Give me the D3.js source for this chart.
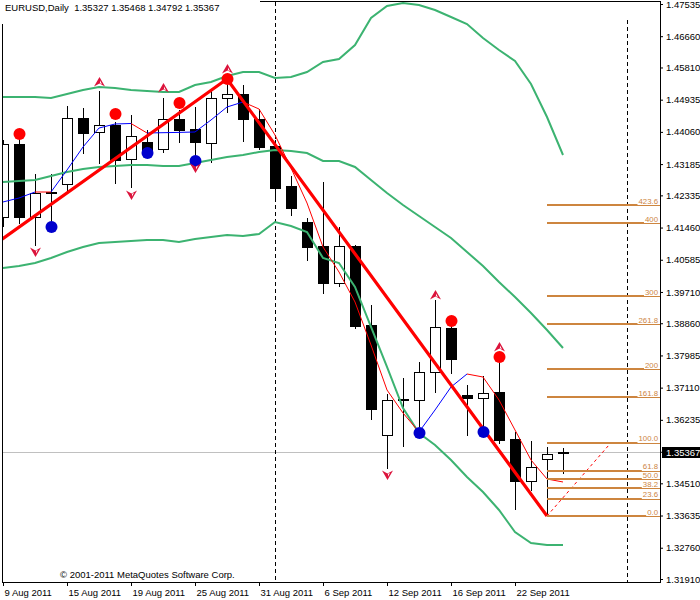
<!DOCTYPE html>
<html><head><meta charset="utf-8">
<script src="https://cdn.jsdelivr.net/npm/d3@7/dist/d3.min.js"></script>
<style>
body{margin:0;background:#fff}
svg{display:block}
text{font-family:"Liberation Sans",Arial,sans-serif;fill:#000}
</style>
</head><body>
<svg id="chart" width="700" height="600"></svg>
<script>
// ---------------- data ----------------
const symbolTitle = "EURUSD,Daily";
const dates = ["2011-08-09","2011-08-10","2011-08-11","2011-08-12","2011-08-15","2011-08-16","2011-08-17","2011-08-18","2011-08-19",
  "2011-08-22","2011-08-23","2011-08-24","2011-08-25","2011-08-26","2011-08-29","2011-08-30","2011-08-31",
  "2011-09-01","2011-09-02","2011-09-05","2011-09-06","2011-09-07","2011-09-08","2011-09-09",
  "2011-09-12","2011-09-13","2011-09-14","2011-09-15","2011-09-16","2011-09-19","2011-09-20","2011-09-21","2011-09-22","2011-09-23",
  "2011-09-26","2011-09-27"];
const openPrices  = [1.41747,1.43731,1.41747,1.42426,1.42644,1.44437,1.44057,1.44247,1.43323,1.43785,1.43595,1.44410,1.44138,1.43758,1.44981,1.45089,1.44410,1.43676,1.42589,1.41611,1.40959,1.39954,1.40959,1.38812,1.35823,1.36801,1.36774,1.37535,1.38731,1.36910,1.36828,1.36992,1.35714,1.34573,1.35171,1.35327];
const highPrices  = [1.43839,1.43867,1.42915,1.42915,1.44763,1.44709,1.45171,1.44328,1.44519,1.44111,1.44981,1.44655,1.44736,1.45225,1.45497,1.45334,1.44682,1.43839,1.42861,1.41720,1.42698,1.41475,1.40986,1.39356,1.36937,1.37372,1.37807,1.39492,1.38785,1.37182,1.37426,1.37807,1.35905,1.35660,1.35497,1.35468];
const lowPrices   = [1.41502,1.41584,1.40986,1.41611,1.42426,1.43486,1.43214,1.42671,1.42562,1.43486,1.43513,1.43785,1.43350,1.43242,1.44600,1.43812,1.43595,1.42263,1.41801,1.40579,1.39682,1.39872,1.38731,1.36258,1.34926,1.35524,1.35877,1.36992,1.37508,1.35823,1.35959,1.35606,1.33812,1.34328,1.33622,1.34792];
const closePrices = [1.43731,1.41747,1.42399,1.42399,1.44437,1.44030,1.44247,1.43296,1.43948,1.43568,1.44410,1.44111,1.43785,1.44981,1.45089,1.44410,1.43649,1.42535,1.41992,1.40932,1.39954,1.40959,1.38785,1.36530,1.36774,1.36774,1.37535,1.38758,1.37888,1.36828,1.36964,1.35687,1.34573,1.34953,1.35307,1.35367];

const bandUpper  = [1.45008,1.45008,1.45008,1.44981,1.45089,1.45198,1.45280,1.45252,1.45198,1.45171,1.45144,1.45144,1.45334,1.45415,1.45579,1.45687,1.45687,1.45524,1.45551,1.45687,1.45959,1.46040,1.46421,1.47155,1.47481,1.47562,1.47508,1.47372,1.47182,1.46992,1.46611,1.46285,1.45986,1.45361,1.44464,1.43432];
const bandMiddle = [1.42698,1.42725,1.42752,1.42861,1.42970,1.43051,1.43106,1.43133,1.43160,1.43160,1.43133,1.43133,1.43214,1.43296,1.43377,1.43432,1.43513,1.43568,1.43540,1.43486,1.43269,1.43269,1.43106,1.42752,1.42399,1.42073,1.41774,1.41475,1.41176,1.40796,1.40415,1.39981,1.39573,1.39138,1.38676,1.38187];
const bandLower  = [1.40361,1.40415,1.40497,1.40633,1.40796,1.40932,1.41040,1.41068,1.41095,1.41122,1.41122,1.41068,1.41149,1.41204,1.41258,1.41231,1.41285,1.41611,1.41502,1.41339,1.40633,1.40497,1.39845,1.38758,1.37671,1.36557,1.35877,1.35551,1.35144,1.34682,1.34274,1.33785,1.33187,1.32888,1.32834,1.32834];

const maValues = [1.42155,1.42263,1.42426,1.42426,1.43024,1.43649,1.44165,1.44274,1.44288,1.44030,1.44038,1.44046,1.44057,1.44383,1.44736,1.44872,1.44682,1.43975,1.43079,1.42127,1.40932,1.40252,1.39437,1.38269,1.37046,1.36421,1.35905,1.36502,1.37127,1.37481,1.37399,1.36774,1.35959,1.35144,1.34627,1.34546];

const zigzagBars   = [-1, 14, 34];
const zigzagPrices = [1.40850, 1.45497, 1.33622];

const redDotBars    = [1, 7, 11, 14, 28, 31];
const redDotPrices  = [1.44002, 1.44546, 1.44845, 1.45497, 1.38921, 1.37943];
const blueDotBars   = [3, 9, 12, 26, 30];
const blueDotPrices = [1.41475, 1.43486, 1.43269, 1.35877, 1.35905];
const upArrowBars     = [6, 10, 14, 27, 31];
const upArrowPrices   = [1.45415, 1.45252, 1.45769, 1.39627, 1.38214];
const downArrowBars   = [2, 8, 12, 24];
const downArrowPrices = [1.40796, 1.42345, 1.43079, 1.34736];

const fibStartBar = 34, fibEndBar = 38;
const fibLow = 1.33622, fibHigh = 1.35614;
const fibLevels = [0, 23.6, 38.2, 50, 61.8, 100, 161.8, 200, 261.8, 300, 400, 423.6];
const fibLabels = ["0.0","23.6","38.2","50.0","61.8","100.0","161.8","200","261.8","300","400","423.6"];

const yTickValues = [1.47535,1.46660,1.45810,1.44935,1.44060,1.43185,1.42335,1.41460,1.40585,1.39710,1.38860,1.37985,1.37110,1.36235,1.34510,1.33635,1.32760,1.31910];
const xTickBars = [0,4,8,12,16,20,24,28,32];
const separatorBars = [17, 39];
const lastPrice = 1.35367;
const copyrightText = "\u00a9 2001-2011 MetaQuotes Software Corp.";

// ---------------- scales ----------------
const svg = d3.select("#chart");
const L = 2, R = 660, T = 2, B = 582;
const x = d3.scaleLinear().domain([0, 41]).range([3, 659]);
const y = d3.scaleLinear().domain([1.31910, 1.47535]).range([579, 4]);
const px = v => Math.round(v) + 0.5;

svg.append("defs").append("clipPath").attr("id","plot")
  .append("rect").attr("x",L).attr("y",T).attr("width",R-L).attr("height",B-T);
const g = svg.append("g").attr("clip-path","url(#plot)");

// bid line
g.append("line").attr("x1",L).attr("x2",R).attr("y1",px(y(lastPrice))).attr("y2",px(y(lastPrice)))
  .attr("stroke","#c0c0c0").attr("stroke-width",1);

// period separators
separatorBars.forEach((b,k) => {
  g.append("line").attr("x1",px(x(b))).attr("x2",px(x(b)))
    .attr("y1", k===0 ? T : 20).attr("y2",B)
    .attr("stroke","#000").attr("stroke-width",1).attr("stroke-dasharray","4,3");
});

// candles
const idx = d3.range(dates.length);
const cg = g.append("g");
idx.forEach(i => {
  const cx = Math.round(x(i));
  cg.append("line").attr("x1",cx+0.5).attr("x2",cx+0.5)
    .attr("y1",Math.round(y(highPrices[i]))).attr("y2",Math.round(y(lowPrices[i]))+1)
    .attr("stroke","#000").attr("stroke-width",1);
  const yo = Math.round(y(openPrices[i])), yc = Math.round(y(closePrices[i]));
  const bull = closePrices[i] >= openPrices[i];
  cg.append("rect").attr("x",cx-4.5).attr("y",Math.min(yo,yc)+0.5)
    .attr("width",10).attr("height",Math.max(Math.abs(yo-yc),0.01))
    .attr("fill", bull ? "#fff" : "#000").attr("stroke","#000").attr("stroke-width",1);
});

// bollinger bands
const bandLine = d3.line().x((d,i)=>x(i)).y(d=>y(d));
[bandUpper, bandMiddle, bandLower].forEach(arr => {
  g.append("path").attr("d",bandLine(arr)).attr("fill","none")
    .attr("stroke","#3cb371").attr("stroke-width",2);
});

// moving average coloured by direction
for (let i = 0; i < maValues.length-1; i++) {
  g.append("line").attr("x1",x(i)).attr("y1",y(maValues[i])).attr("x2",x(i+1)).attr("y2",y(maValues[i+1]))
    .attr("stroke", maValues[i+1] > maValues[i] ? "#0000ff" : "#ff0000").attr("stroke-width",1);
}

// zigzag
g.append("path").attr("d", d3.line()(zigzagBars.map((b,k)=>[x(b), y(zigzagPrices[k])])))
  .attr("fill","none").attr("stroke","#ff0000").attr("stroke-width",3.2).attr("stroke-linejoin","round");

// fibonacci
const fibColor = "#cd853f";
g.append("line").attr("x1",x(fibStartBar)).attr("y1",y(fibLow)).attr("x2",x(fibEndBar)).attr("y2",y(fibHigh))
  .attr("stroke","#ff0000").attr("stroke-width",1).attr("stroke-dasharray","3,3");
const fg = svg.append("g");
fibLevels.forEach((lv,k) => {
  const yv = y(fibLow + (fibHigh-fibLow)*lv/100);
  const yy = Math.round(yv);
  const t = fg.append("text").attr("x",R-2).attr("y",yv-1.2).attr("text-anchor","end")
    .attr("font-size","7.8px").style("fill",fibColor).text(fibLabels[k]);
  const w = t.node().getComputedTextLength();
  fg.append("line").attr("x1",x(fibStartBar)).attr("x2",R).attr("y1",yy+0.5).attr("y2",yy+0.5)
    .attr("stroke",fibColor).attr("stroke-width",1);
  fg.append("line").attr("x1",x(fibStartBar)).attr("x2",R-3-w).attr("y1",yy).attr("y2",yy)
    .attr("stroke",fibColor).attr("stroke-width",2);
});

// fractal dots and arrows
redDotBars.forEach((b,k)=> g.append("circle").attr("cx",x(b)+0.5).attr("cy",y(redDotPrices[k])).attr("r",6).attr("fill","#ff0000"));
blueDotBars.forEach((b,k)=> g.append("circle").attr("cx",x(b)+0.5).attr("cy",y(blueDotPrices[k])).attr("r",6).attr("fill","#0000cd"));
const arrowColor = "#dc143c";
upArrowBars.forEach((b,k)=> {
  const a = g.append("g").attr("transform",`translate(${x(b)+0.5},${y(upArrowPrices[k])})`);
  a.append("path").attr("d","M0,-5 L5.5,4.5 L0,1.5 L-5.5,4.5 Z").attr("fill",arrowColor);
  a.append("path").attr("d","M0.5,-1.5 L2.5,2.2 L0.5,1.2 Z").attr("fill","#fff");
});
downArrowBars.forEach((b,k)=> {
  const a = g.append("g").attr("transform",`translate(${x(b)+0.5},${y(downArrowPrices[k])})`);
  a.append("path").attr("d","M0,5 L5.5,-4.5 L0,-1.5 L-5.5,-4.5 Z").attr("fill",arrowColor);
  a.append("path").attr("d","M0.5,1.5 L2.5,-2.2 L0.5,-1.2 Z").attr("fill","#fff");
});

// frame
svg.append("line").attr("x1",L+0.5).attr("x2",L+0.5).attr("y1",24).attr("y2",B+1).attr("stroke","#000");
svg.append("line").attr("x1",260).attr("x2",R+1).attr("y1",1.5).attr("y2",1.5).attr("stroke","#000");
svg.append("line").attr("x1",L).attr("x2",R+1).attr("y1",B+0.5).attr("y2",B+0.5).attr("stroke","#000");
svg.append("line").attr("x1",R+0.5).attr("x2",R+0.5).attr("y1",1).attr("y2",B+1).attr("stroke","#000");

// y axis
const yAxis = d3.axisRight(y).tickValues(yTickValues.concat([lastPrice])).tickSize(3).tickPadding(3)
  .tickFormat(d => d.toFixed(5));
const ya = svg.append("g").attr("transform",`translate(${R},0)`).call(yAxis);
ya.select(".domain").remove();
ya.selectAll("text").attr("font-size","9.5px").attr("font-family","Liberation Sans, Arial, sans-serif").attr("fill","#000");
ya.selectAll(".tick").filter(d => d === lastPrice).select("text").remove();
// last price box
const yl = Math.round(y(lastPrice));
svg.append("rect").attr("x",R+2).attr("y",yl-5).attr("width",40).attr("height",11).attr("fill","#000");
svg.append("text").attr("x",R+6).attr("y",yl+4).attr("font-size","9.5px").style("fill","#fff").text(lastPrice.toFixed(5));

// x axis
const fmt = d3.timeFormat("%-d %b %Y");
const parse = d3.timeParse("%Y-%m-%d");
const xAxis = d3.axisBottom(x).tickValues(xTickBars).tickSize(4).tickPadding(3)
  .tickFormat(i => fmt(parse(dates[i])));
const xa = svg.append("g").attr("transform",`translate(0,${B})`).call(xAxis);
xa.select(".domain").remove();
xa.selectAll("text").attr("text-anchor","start").attr("x",1)
  .attr("font-size","9.5px").attr("font-family","Liberation Sans, Arial, sans-serif").attr("fill","#000");

// header & copyright
svg.append("text").attr("x",5).attr("y",11).attr("font-size","9.5px").style("white-space","pre")
  .text(symbolTitle + "  " + [openPrices[35],highPrices[35],lowPrices[35],closePrices[35]].map(v=>v.toFixed(5)).join(" "));
svg.append("text").attr("x",60).attr("y",578).attr("font-size","9.5px").text(copyrightText);
</script>
</body></html>
